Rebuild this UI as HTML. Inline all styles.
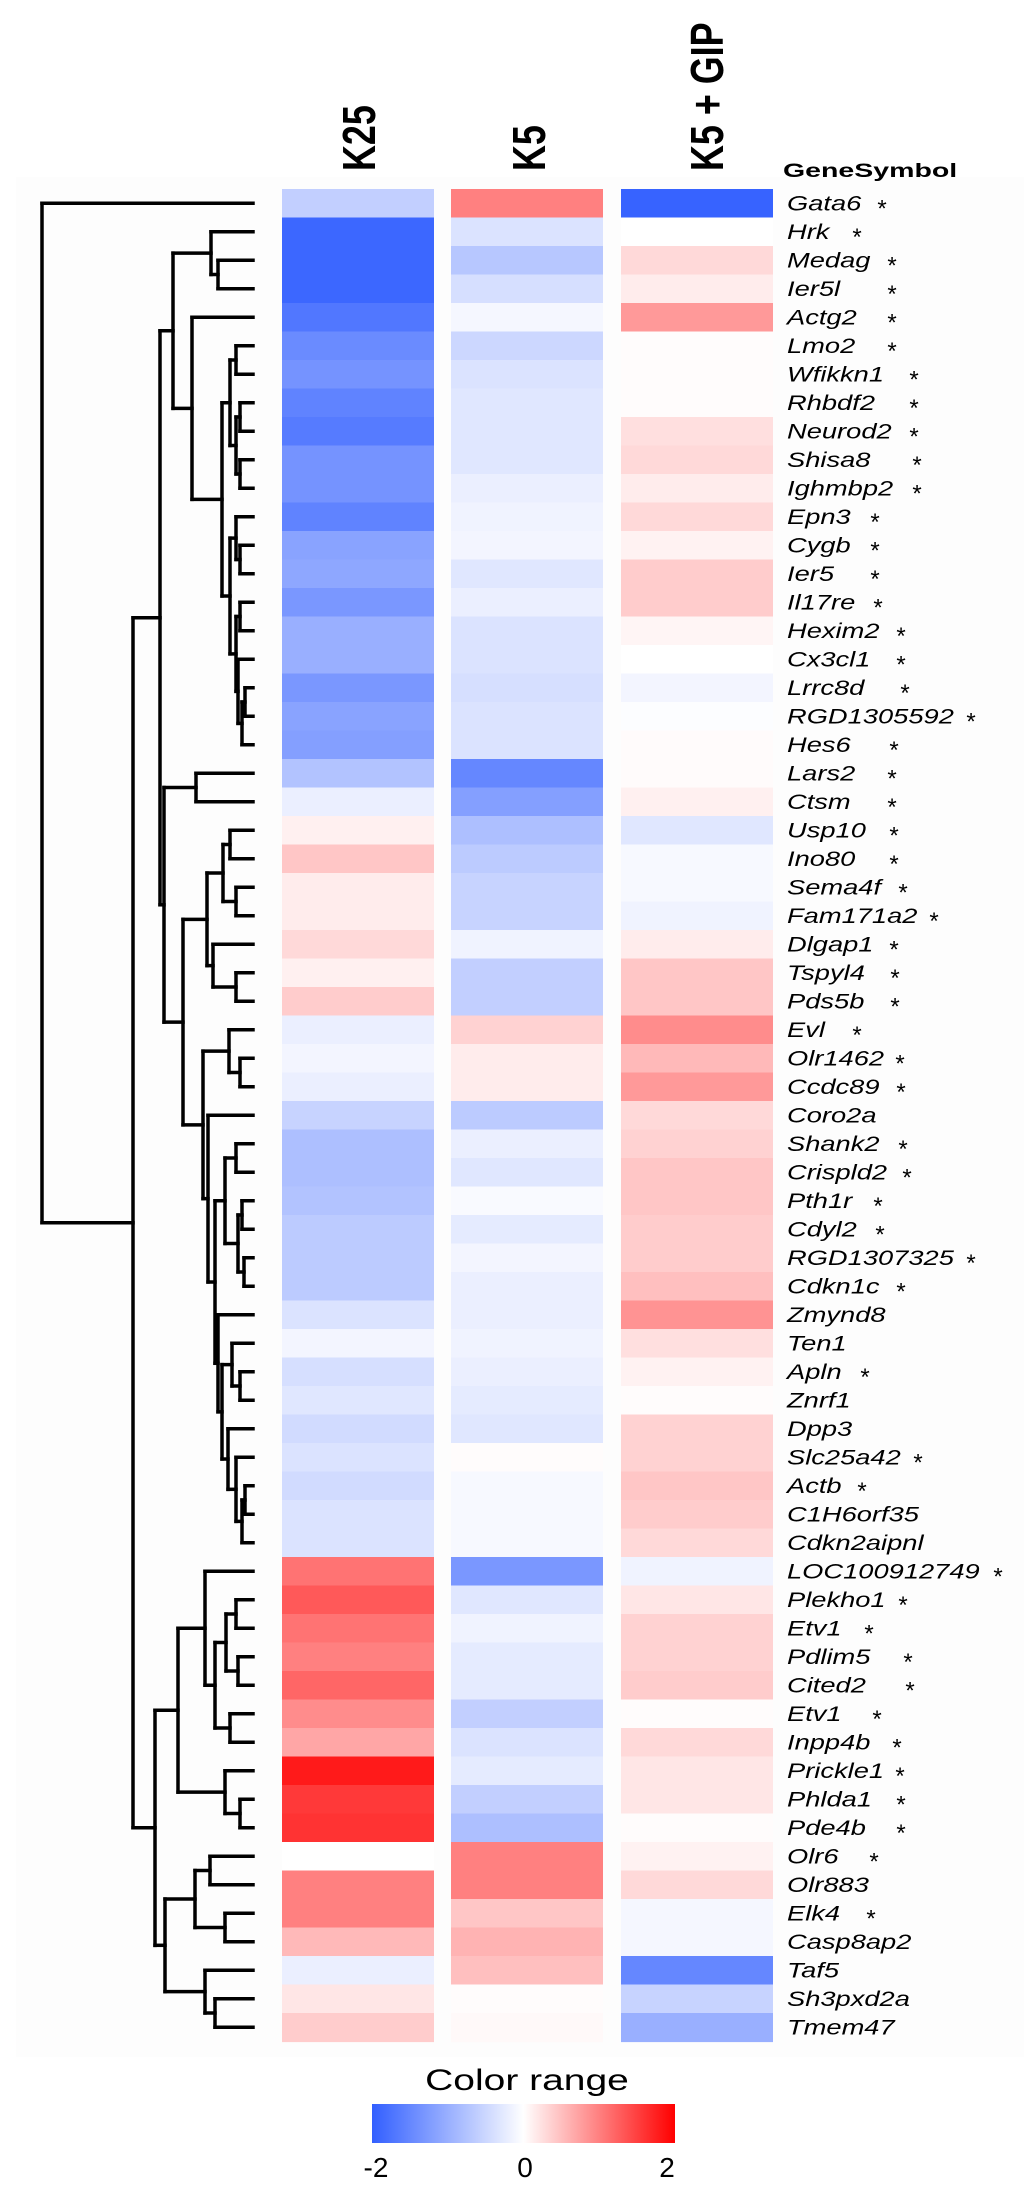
<!DOCTYPE html>
<html><head><meta charset="utf-8"><style>
html,body{margin:0;padding:0;background:#fff;}
svg{display:block;font-family:"Liberation Sans",sans-serif;}
</style></head><body>
<svg id="chart" width="1024" height="2197" viewBox="0 0 1024 2197" xmlns="http://www.w3.org/2000/svg">
<defs><linearGradient id="cg" x1="0" x2="1" y1="0" y2="0">
<stop offset="0" stop-color="rgb(50,95,255)"/><stop offset="0.5" stop-color="#fff"/><stop offset="1" stop-color="rgb(255,0,0)"/></linearGradient></defs>
<rect x="16" y="177" width="1008" height="1880" fill="#fdfdfd"/>
<g id="heads"></g><g id="dendro"></g><g id="cells"></g><g id="labels"></g>
<text transform="translate(783,177) scale(1.5,1)" font-weight="bold" font-size="19">GeneSymbol</text>
<text transform="translate(527,2090) scale(1.3,1)" text-anchor="middle" font-size="30">Color range</text>
<rect x="372" y="2104" width="303" height="39" fill="url(#cg)"/>
<text x="376" y="2177" text-anchor="middle" font-size="28">-2</text>
<text x="525" y="2177" text-anchor="middle" font-size="28">0</text>
<text x="667" y="2177" text-anchor="middle" font-size="28">2</text>
</svg>
<script>
const conditions = ["K25","K5","K5 + GIP"];
const genes = ["Gata6","Hrk","Medag","Ier5l","Actg2","Lmo2","Wfikkn1","Rhbdf2","Neurod2","Shisa8","Ighmbp2","Epn3","Cygb","Ier5","Il17re","Hexim2","Cx3cl1","Lrrc8d","RGD1305592","Hes6","Lars2","Ctsm","Usp10","Ino80","Sema4f","Fam171a2","Dlgap1","Tspyl4","Pds5b","Evl","Olr1462","Ccdc89","Coro2a","Shank2","Crispld2","Pth1r","Cdyl2","RGD1307325","Cdkn1c","Zmynd8","Ten1","Apln","Znrf1","Dpp3","Slc25a42","Actb","C1H6orf35","Cdkn2aipnl","LOC100912749","Plekho1","Etv1","Pdlim5","Cited2","Etv1","Inpp4b","Prickle1","Phlda1","Pde4b","Olr6","Olr883","Elk4","Casp8ap2","Taf5","Sh3pxd2a","Tmem47"];
const valuesK25 = [-0.6,-1.9,-1.9,-1.9,-1.7,-1.45,-1.35,-1.55,-1.65,-1.35,-1.35,-1.55,-1.15,-1.1,-1.3,-1.0,-1.0,-1.3,-1.15,-1.2,-0.75,-0.2,0.12,0.45,0.15,0.15,0.3,0.12,0.4,-0.2,-0.12,-0.2,-0.55,-0.8,-0.8,-0.75,-0.65,-0.65,-0.65,-0.35,-0.12,-0.4,-0.3,-0.45,-0.35,-0.45,-0.35,-0.35,1.1,1.3,1.1,1.0,1.2,0.9,0.7,1.8,1.55,1.6,0,1.0,1.0,0.55,-0.2,0.2,0.4];
const valuesK5 = [1.0,-0.35,-0.7,-0.4,-0.1,-0.5,-0.35,-0.3,-0.3,-0.3,-0.2,-0.15,-0.12,-0.3,-0.2,-0.35,-0.35,-0.4,-0.35,-0.35,-1.5,-1.2,-0.8,-0.65,-0.55,-0.55,-0.15,-0.6,-0.6,0.35,0.15,0.15,-0.65,-0.2,-0.3,-0.06,-0.25,-0.12,-0.2,-0.2,-0.15,-0.2,-0.25,-0.3,0.02,-0.08,-0.08,-0.08,-1.3,-0.3,-0.15,-0.25,-0.25,-0.6,-0.35,-0.25,-0.6,-0.8,1.0,1.0,0.45,0.6,0.5,0.02,0.05];
const valuesGIP = [-1.95,0,0.3,0.15,0.8,0.02,0.02,0.02,0.25,0.3,0.15,0.3,0.1,0.4,0.4,0.08,0,-0.12,-0.03,0.03,0.03,0.12,-0.3,-0.08,-0.08,-0.15,0.15,0.45,0.45,0.9,0.55,0.8,0.3,0.35,0.45,0.45,0.4,0.4,0.5,0.85,0.25,0.1,0.02,0.35,0.35,0.45,0.4,0.3,-0.15,0.2,0.35,0.35,0.4,0.02,0.3,0.2,0.2,0.02,0.1,0.3,-0.1,-0.1,-1.5,-0.55,-1.0];
const significant = [1,1,1,1,1,1,1,1,1,1,1,1,1,1,1,1,1,1,1,1,1,1,1,1,1,1,1,1,1,1,1,1,0,1,1,1,1,1,1,0,0,1,0,0,1,1,0,0,1,1,1,1,1,1,1,1,1,1,1,0,1,0,0,0,0];
const starX = [882,857,892,892,892,892,914,914,914,917,917,875,875,875,878,901,901,905,971,894,892,892,894,894,903,934,894,895,895,857,900,901,0,903,907,878,880,971,901,0,0,865,0,0,918,862,0,0,998,903,869,908,910,877,897,900,901,901,874,0,871,0,0,0,0];
const tree = [42,0,[133,[160,[173,[211,1,[218,2,3]],[192,4,[222,[230,[236,5,6],[236,[240,7,8],[240,9,10]]],[230,[236,11,[240,12,13]],[236,[240,14,15],[238,16,[242,[245,17,18],19]]]]]]],[164,[196,20,21],[183,[207,[223,[230,22,23],[236,24,25]],[213,26,[236,27,28]]],[203,[229,29,[240,30,31]],[208,32,[215,[225,[236,33,34],[238,[242,35,36],[244,37,38]]],[218,39,[222,[232,40,[240,41,42]],[228,43,[236,44,[242,[245,45,46],47]]]]]]]]]]],[155,[178,[205,48,[215,[226,[236,49,50],[238,51,52]],[230,53,54]]],[225,55,[240,56,57]]],[165,[195,[210,58,59],[225,60,61]],[205,62,[215,63,64]]]]]];

const NS="http://www.w3.org/2000/svg";
const top0=189, rowH=28.5, colX=[282,451,621], colW=152, leafX=253;
function yOf(i){return top0+(i+0.5)*rowH;}
function xOf(c){return colX[c];}
function color(v){
  v=Math.max(-2,Math.min(2,v));
  let t=Math.abs(v)/2, e=v<0?[50,95,255]:[255,0,0];
  return "rgb("+[0,1,2].map(k=>Math.round(255+(e[k]-255)*t)).join(",")+")";
}
function mk(tag,attrs,parent){const el=document.createElementNS(NS,tag);for(const k in attrs)el.setAttribute(k,attrs[k]);parent.appendChild(el);return el;}

const heads=document.getElementById('heads');
const headCx=[359,529,707];
conditions.forEach((c,i)=>{
  const t=mk('text',{transform:"translate("+(headCx[i]+16)+",171) rotate(-90) scale(0.78,1)","font-size":"46","font-weight":"bold"},heads);
  
  
  t.textContent=c;
});

const cells=document.getElementById('cells');
[valuesK25,valuesK5,valuesGIP].forEach((arr,c)=>{
  arr.forEach((v,i)=>{
    const r=mk('rect',{x:xOf(c),y:(top0+i*rowH).toFixed(2),width:colW,height:(rowH+0.6).toFixed(2),fill:color(v)},cells);
    
    
  });
});

const labels=document.getElementById('labels');
genes.forEach((g,i)=>{
  const t=mk('text',{transform:"translate(787,"+(yOf(i)+7)+") scale(1.3,1)","font-size":"21","font-style":"italic"},labels);
  
  
  t.textContent=g;
  if(significant[i]){
    const s=mk('text',{x:starX[i],y:yOf(i)+13,"font-size":"24","text-anchor":"middle"},labels);
    
    
    s.textContent="*";
  }
});

const dg=document.getElementById('dendro');
function line(x1,y1,x2,y2){
  const l=mk('line',{x1:x1,y1:y1,x2:x2,y2:y2,stroke:"#000","stroke-width":"3.5","stroke-linecap":"square"},dg);
  
  
}
function draw(n){
  if(typeof n==="number") return {x:leafX,y:yOf(n)};
  const x=n[0], a=draw(n[1]), b=draw(n[2]);
  line(x,a.y,x,b.y);
  line(x,a.y,a.x,a.y);
  line(x,b.y,b.x,b.y);
  return {x:x,y:(a.y+b.y)/2};
}
draw(tree);
</script>
</body></html>
